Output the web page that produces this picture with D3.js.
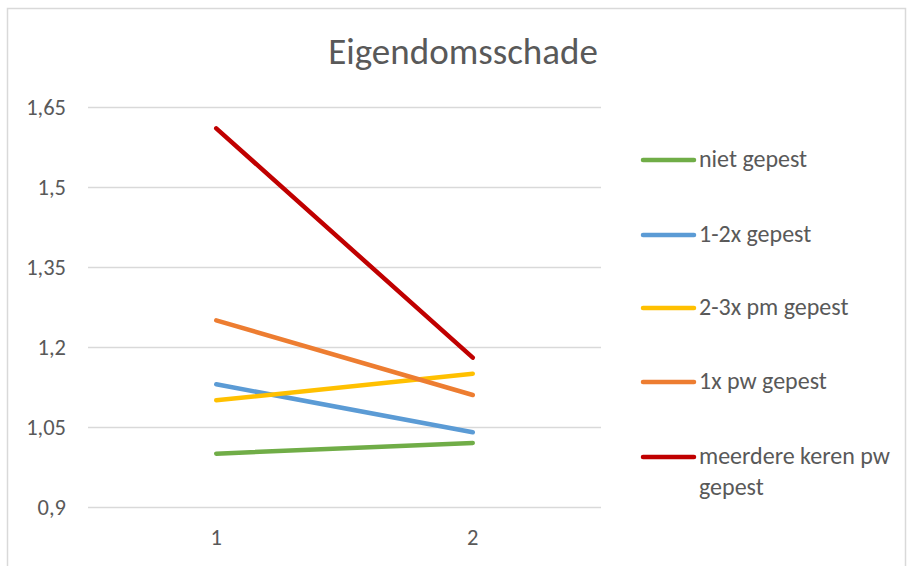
<!DOCTYPE html>
<html><head><meta charset="utf-8">
<script src="https://cdn.jsdelivr.net/npm/d3@7"></script>
<style>body{margin:0;background:#fff}svg{display:block}</style>
</head><body>
<script>
const categories = ["1", "2"];
const seriesNames = ["niet gepest", "1-2x gepest", "2-3x pm gepest", "1x pw gepest", "meerdere keren pw gepest"];
const nietGepest = [1.00, 1.02];
const eenTweeKeer = [1.13, 1.04];
const tweeDrieKeerPm = [1.10, 1.15];
const eenKeerPw = [1.25, 1.11];
const meerdereKerenPw = [1.61, 1.18];
const yTicks = [0.9, 1.05, 1.2, 1.35, 1.5, 1.65];
const colors = ["#70AD47", "#5B9BD5", "#FFC000", "#ED7D31", "#C00000"];
const seriesValues = [nietGepest, eenTweeKeer, tweeDrieKeerPm, eenKeerPw, meerdereKerenPw];

const W = 907, H = 566;
const font = "Carlito, Lato, 'Open Sans', sans-serif";
const svg = d3.select("body").append("svg").attr("width", W).attr("height", H);
svg.append("rect").attr("x", 7.5).attr("y", 8.5).attr("width", 898).attr("height", 600)
  .attr("fill", "#fff").attr("stroke", "#d9d9d9").attr("stroke-width", 1.5);

const x = d3.scaleBand().domain(categories).range([88, 601]);
const y = d3.scaleLinear().domain([0.9, 1.65]).range([507, 107]);

svg.append("text").attr("x", 463).attr("y", 64).attr("text-anchor", "middle")
  .attr("font-family", font).attr("font-size", 37).attr("fill", "#595959").text("Eigendomsschade");

const fmt = v => String(v).replace(".", ",");
const yAxis = svg.append("g").attr("transform", "translate(88,0)")
  .call(d3.axisLeft(y).tickValues(yTicks).tickSize(-513).tickFormat(fmt).tickPadding(22));
yAxis.select(".domain").remove();
yAxis.selectAll("line").attr("stroke", "#d9d9d9").attr("stroke-width", 1.5);
yAxis.selectAll("text").attr("font-family", font).attr("font-size", 22.5).attr("fill", "#595959").attr("dy", "0.35em");

const xAxis = svg.append("g").attr("transform", "translate(0,507)")
  .call(d3.axisBottom(x).tickSize(0).tickPadding(22));
xAxis.select(".domain").remove();
xAxis.selectAll("text").attr("font-family", font).attr("font-size", 22.5).attr("fill", "#595959");

const line = d3.line().x((d, i) => x(categories[i]) + x.bandwidth() / 2).y(d => y(d));
seriesValues.forEach((vals, i) => {
  svg.append("path").datum(vals).attr("d", line).attr("fill", "none")
    .attr("stroke", colors[i]).attr("stroke-width", 4.5).attr("stroke-linecap", "round");
});

const legendY = [160, 235, 308, 382, 457];
seriesNames.forEach((name, i) => {
  const g = svg.append("g").attr("transform", `translate(0,${legendY[i]})`);
  g.append("line").attr("x1", 643).attr("x2", 694).attr("y1", 0).attr("y2", 0)
    .attr("stroke", colors[i]).attr("stroke-width", 4.5).attr("stroke-linecap", "round");
  const t = g.append("text").attr("x", 699).attr("y", 7).attr("font-family", font)
    .attr("font-size", 24).attr("fill", "#595959");
  if (name === "meerdere keren pw gepest") {
    t.append("tspan").attr("x", 699).text("meerdere keren pw");
    t.append("tspan").attr("x", 699).attr("dy", 31).text("gepest");
  } else t.text(name);
});
</script>
</body></html>
